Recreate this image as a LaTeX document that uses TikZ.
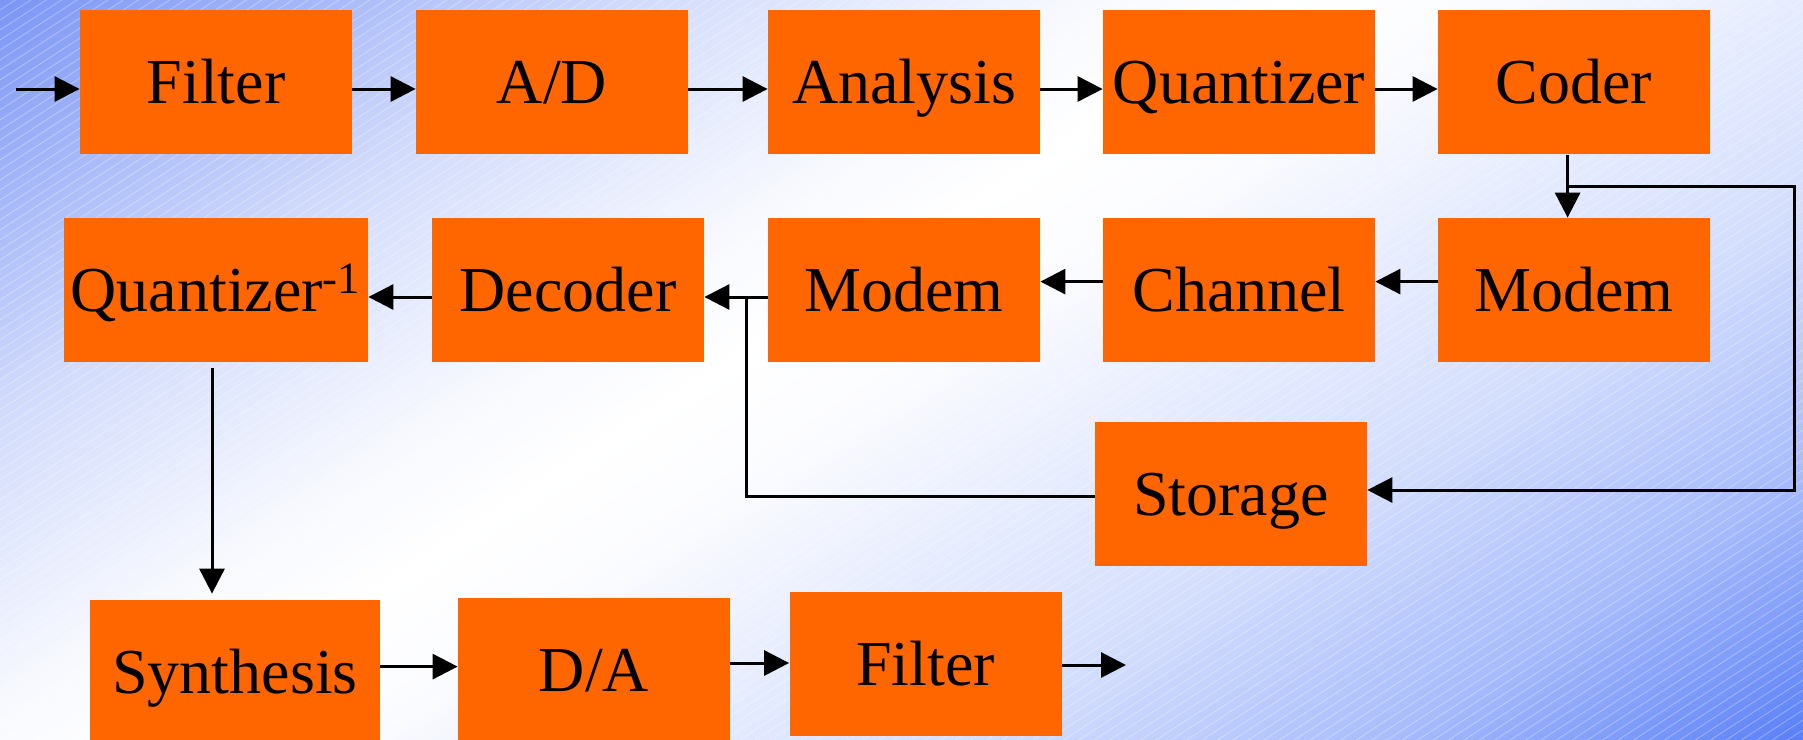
\documentclass[tikz,border=0pt]{standalone}
\usepackage{fontspec}
\setmainfont{Liberation Serif}
\usetikzlibrary{arrows.meta}
\definecolor{boxorange}{HTML}{FF6600}
\definecolor{bgA}{RGB}{122,149,245}
\definecolor{bgB}{RGB}{90,128,248}

\begin{document}
\begin{tikzpicture}[x=0.5pt,y=-0.5pt,
  block/.style={fill=boxorange, minimum width=136pt, minimum height=72pt,
    inner sep=0pt, text height=21.2pt, text depth=0pt,
    font=\fontsize{32}{38}\selectfont},
  arr/.style={line width=1.5pt, -{Triangle[length=12.5pt,width=12.5pt]}},
  wire/.style={line width=1.5pt}]

% background: diagonal blue-white-blue gradient built from thin bands,
% bands run at 33 degrees; p is the distance along the gradient axis
\useasboundingbox (0,0) rectangle (1803,739);
\begin{scope}
  \clip (0,0) rectangle (1803,739);
  \foreach \pa/\pb/\fa/\fb/\col in {
      -60/0/100/100/bgA, 0/150/100/71/bgA, 150/340/71/35/bgA,
      340/590/35/6/bgA, 590/700/6/0/bgA, 700/800/0/2/bgB,
      800/983/2/15/bgB, 983/1150/15/26/bgB, 1150/1380/26/53/bgB,
      1380/1600/53/100/bgB, 1600/1700/100/100/bgB} {
    \pgfmathtruncatemacro\n{max(1,round((\pb-\pa)/6))}
    \foreach \k in {1,...,\n} {
      \pgfmathsetmacro\qa{\pa+(\k-1)*(\pb-\pa)/\n}
      \pgfmathsetmacro\qb{\pa+\k*(\pb-\pa)/\n+1.5}
      \pgfmathsetmacro\fr{\fa+(\k-0.5)*(\fb-\fa)/\n}
      \fill[\col!\fr!white]
        ({\qa*0.545-1846},{\qa*0.839+1199}) -- ({\qa*0.545+1846},{\qa*0.839-1199}) --
        ({\qb*0.545+1846},{\qb*0.839-1199}) -- ({\qb*0.545-1846},{\qb*0.839+1199}) -- cycle;
    }
  }
  % faint hatching
  \foreach \c in {0,10,...,1920}
    \draw[white, opacity=0.3, line width=0.45pt] (0,\c) -- (1803,\c-1170);
\end{scope}

% encoder row
\node[block] (f1) at (216,82)  {Filter};
\node[block] (ad) at (552,82)  {A/D};
\node[block] (an) at (904,82)  {Analysis};
\node[block] (qz) at (1239,82) {Quantizer};
\node[block] (cd) at (1574,82) {Coder};

% transmission / decoder row
\node[block, minimum width=152pt] (qi) at (216,290) {Quantizer\textsuperscript{-1}};
\node[block] (dc) at (568,290)  {Decoder};
\node[block] (m1) at (904,290)  {Modem};
\node[block] (ch) at (1239,290) {Channel};
\node[block] (m2) at (1574,290) {Modem};
\node[block] (st) at (1231,494) {Storage};

% output row
\node[block, minimum width=145pt] (sy) at (235,672) {Synthesis};
\node[block] (da) at (594,670)  {D/A};
\node[block] (f3) at (925.5,664) {Filter};

% encoder chain
\coordinate (in) at (16,89);
\draw[arr] (in) -- (in -| f1.west);
\draw[arr] ([yshift=-3.5pt]f1.east) -- ([yshift=-3.5pt]ad.west);
\draw[arr] ([yshift=-3.5pt]ad.east) -- ([yshift=-3.5pt]an.west);
\draw[arr] ([yshift=-3.5pt]an.east) -- ([yshift=-3.5pt]qz.west);
\draw[arr] ([yshift=-3.5pt]qz.east) -- ([yshift=-3.5pt]cd.west);

% coder to modem, with branch to storage
\draw[arr] ([xshift=-3.2pt,yshift=-0.5pt]cd.south) -- ([xshift=-3.2pt]m2.north);
\coordinate (br) at (1568,186);
\coordinate (rt) at (1794,186);
\draw[arr] (br) -- (rt) |- ([yshift=2pt]st.east);

% channel path back to the decoder
\draw[arr] ([yshift=4.2pt]m2.west) -- ([yshift=4.2pt]ch.east);
\draw[arr] ([yshift=4.2pt]ch.west) -- ([yshift=4.2pt]m1.east);
\draw[arr] ([yshift=-3.5pt]m1.west) -- ([yshift=-3.5pt]dc.east);
\draw[arr] ([yshift=-3.5pt]dc.west) -- ([yshift=-3.5pt]qi.east);
\coordinate (jn) at (746,297);
\draw[wire] ([yshift=-1pt]st.west) -| (jn);

% decoder chain
\coordinate (qa) at (212,368);
\draw[arr] (qa) -- ([yshift=3pt]sy.north -| qa);
\draw[arr] ([yshift=2.7pt]sy.east) -- ([yshift=2.7pt]sy.east -| da.west);
\draw[arr] ([yshift=3.5pt]da.east) -- ([yshift=3.5pt]da.east -| f3.west);
\coordinate (out) at (1126,665);
\draw[arr] (f3.east |- out) -- (out);
\end{tikzpicture}
\end{document}
